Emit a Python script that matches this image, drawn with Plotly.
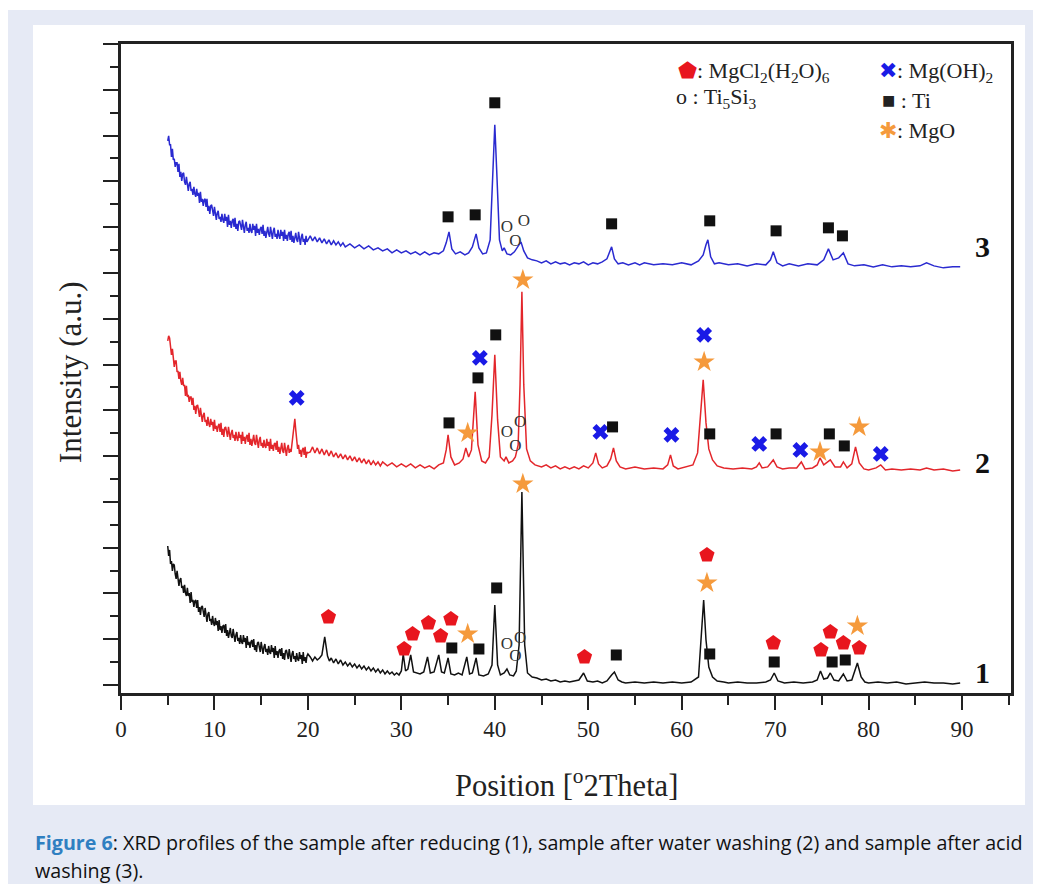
import plotly.graph_objects as go

# ---------------- data (2theta in degrees, intensity in a.u., stacked patterns) ----------------
# low-angle part of each pattern: 5.0 .. 20.0 deg, scan step 0.1 deg
scan_start, scan_step = 5.0, 0.1
t1_low = [139,129,135,121,124,114,121,120,111,106,
          114,105,99,105,107,97,99,92,100,92,
          89,97,89,92,82,93,83,85,78,84,
          85,77,85,73,78,70,78,79,71,68,
          77,69,63,71,73,64,66,60,69,62,
          59,67,60,64,54,65,55,59,52,59,
          60,52,61,49,55,47,55,57,49,47,
          56,48,43,50,53,44,47,41,50,43,
          41,50,43,47,37,49,40,43,37,43,
          45,38,46,35,40,33,42,43,36,33,
          43,36,31,38,41,33,36,30,39,33,
          31,40,33,37,27,39,30,34,27,34,
          36,29,37,26,32,25,34,35,28,26,
          36,29,23,31,34,26,29,23,32,26,
          24,33,26,30,21,33,24,28,22,29,
          31]
t2_low = [344,349,347,336,330,336,326,318,324,324,
          313,314,306,313,304,300,307,299,300,289,
          299,288,290,283,288,288,280,287,275,279,
          271,279,280,271,268,277,269,263,270,272,
          263,265,259,268,261,258,266,260,263,254,
          265,256,259,253,259,261,253,262,250,256,
          248,257,258,251,248,258,250,245,252,255,
          247,250,244,253,247,244,253,247,250,241,
          253,244,248,241,248,250,243,252,240,246,
          239,248,250,242,240,250,242,237,245,248,
          239,242,237,245,239,237,246,239,243,234,
          246,236,240,234,241,242,235,244,233,238,
          231,240,242,234,232,242,235,229,237,240,
          232,236,233,242,251,260,266,255,244,236,
          240,231,235,228,235,237,230,238,227,233,
          232]
t3_low = [544,549,540,540,528,536,525,526,518,522,
          522,513,521,508,513,504,511,512,503,500,
          508,500,494,501,503,494,496,490,498,491,
          488,496,489,492,482,493,483,486,479,485,
          486,478,486,474,479,471,479,480,472,469,
          478,470,465,472,474,466,468,463,471,465,
          462,471,464,468,458,470,460,464,457,464,
          466,458,467,456,461,454,463,464,457,455,
          465,457,452,460,463,454,457,452,461,454,
          452,461,455,459,449,461,452,456,450,456,
          458,451,460,449,454,447,456,458,451,448,
          458,451,446,454,457,448,451,446,455,449,
          446,455,449,453,444,455,446,450,444,451,
          453,445,454,443,449,442,450,452,445,443,
          453,446,440,448,451,443,446,440,449,443,
          445]

# rest of each pattern above 20 deg: (2theta, intensity)
t1_high = [(20.25,28),(20.5,24),(20.75,28),(21.0,25),(21.25,27),(21.5,30),(21.8,48),(22.1,29),
(22.3,24),(22.5,27),(22.75,22),(23.0,26),(23.25,21),(23.5,25),(23.75,20),(24.0,23),(24.25,19),(24.5,22),
(24.75,18),(25.0,21),(25.25,17),(25.5,20),(25.75,16),(26.0,19),(26.25,15),(26.5,18),(26.75,14),(27.0,17),
(27.25,13),(27.5,16),(27.75,12),(28.0,15),(28.25,11),(28.5,14),(28.75,11),(29.0,13),(29.25,10),(29.5,12),
(29.75,10),(30.0,14),(30.2,31),(30.45,14),(30.7,16),(31.0,30),(31.3,13),(31.6,12),(32.0,11),(32.4,13),
(32.8,28),(33.1,12),(33.5,13),(34.0,30),(34.3,13),(34.6,12),(35.0,27),(35.3,11),(35.7,10),(36.1,12),
(36.5,10),(37.0,28),(37.3,11),(37.6,12),(38.0,27),(38.3,10),(38.8,9),(39.3,11),(39.7,20),(40.0,80),
(40.3,20),(40.6,10),(41.0,12),(41.3,16),(41.6,10),(42.0,9),(42.3,14),(42.6,40),(42.9,193),(43.2,40),
(43.5,12),(44.0,8),(44.5,7),(45.0,5),(45.5,6),(46.0,4),(46.5,5),(47.0,3),(47.5,4),(48.0,3),(48.5,4),
(49.0,5),(49.5,12),(49.9,4),(50.5,3),(51.0,4),(51.5,2),(52.0,4),(52.5,10),(52.8,13),(53.2,5),(53.6,3),
(54.0,2),(55.0,3),(56.0,2),(57.0,3),(58.0,2),(59.0,3),(60.0,2),(61.0,3),(61.8,8),(62.1,45),(62.35,85),
(62.6,45),(62.9,18),(63.3,8),(63.8,4),(64.5,3),(65.0,2),(66.0,3),(67.0,2),(68.0,2),(69.0,3),(69.5,5),
(69.9,12),(70.3,4),(71.0,2),(72.0,3),(73.0,2),(74.0,3),(74.5,5),(74.85,14),(75.2,6),(75.6,7),(75.9,12),
(76.3,5),(76.8,4),(77.3,11),(77.7,4),(78.2,5),(78.8,22),(79.2,8),(79.6,3),(80.0,2),(81.0,3),(82.0,2),
(83.0,3),(84.0,1),(85.0,2),(86.0,3),(87.0,2),(88.0,2),(89.0,1),(89.8,2)]

t2_high = [(20.25,233),(20.5,238),(20.75,232),(21.0,237),(21.25,231),(21.5,236),(21.75,230),(22.0,235),
(22.25,229),(22.5,234),(22.75,228),(23.0,232),(23.25,227),(23.5,231),(23.75,226),(24.0,230),(24.25,225),
(24.5,229),(24.75,224),(25.0,228),(25.25,223),(25.5,227),(25.75,222),(26.0,226),(26.25,221),(26.5,225),
(26.75,220),(27.0,224),(27.25,220),(27.5,223),(27.75,219),(28.0,223),(28.5,219),(29.0,222),(29.5,218),
(30.0,221),(30.5,218),(31.0,221),(31.5,217),(32.0,220),(32.5,217),(33.0,219),(33.5,216),(34.0,220),
(34.5,222),(34.8,235),(35.0,250),(35.3,228),(35.7,220),(36.2,222),(36.6,226),(36.9,237),(37.2,228),
(37.5,235),(37.9,293),(38.2,240),(38.6,224),(39.0,222),(39.4,228),(39.7,270),(40.0,330),(40.3,265),
(40.6,228),(41.0,224),(41.2,228),(41.5,222),(41.9,224),(42.2,228),(42.5,240),(42.7,300),(42.9,393),
(43.1,300),(43.4,236),(43.8,224),(44.3,220),(45.0,218),(45.5,220),(46.0,217),(46.5,219),(47.0,216),
(47.5,218),(48.0,216),(48.5,218),(49.0,216),(49.5,219),(50.0,217),(50.5,222),(50.8,232),(51.1,221),
(51.5,217),(52.0,219),(52.4,226),(52.7,237),(53.0,224),(53.4,218),(54.0,216),(55.0,218),(56.0,216),
(57.0,217),(58.0,216),(58.5,220),(58.8,230),(59.1,219),(59.6,216),(60.5,218),(61.2,220),(61.7,232),
(62.0,270),(62.3,305),(62.6,262),(62.9,236),(63.3,225),(63.8,219),(64.5,217),(65.5,216),(66.5,217),
(67.5,216),(68.0,218),(68.3,222),(68.6,217),(69.2,218),(69.8,225),(70.2,218),(70.8,216),(71.5,217),
(72.3,217),(72.8,223),(73.2,216),(74.0,217),(74.5,220),(74.8,227),(75.2,220),(75.9,225),(76.4,218),
(77.0,218),(77.3,223),(77.7,217),(78.2,221),(78.6,238),(79.0,222),(79.5,216),(80.0,215),(80.8,217),
(81.3,220),(81.8,215),(82.5,216),(83.5,215),(84.5,216),(85.5,215),(86.2,217),(87.0,215),(88.0,216),
(89.0,214),(89.8,215)]

t3_high = [(20.25,449),(20.5,444),(20.75,448),(21.0,443),(21.25,447),(21.5,442),(21.75,446),(22.0,441),
(22.25,445),(22.5,440),(22.75,444),(23.0,440),(23.25,443),(23.5,439),(23.75,442),(24.0,438),(24.5,441),
(25.0,437),(25.5,440),(26.0,436),(26.5,439),(27.0,435),(27.5,437),(28.0,434),(28.5,436),(29.0,432),
(29.5,435),(30.0,432),(30.5,434),(31.0,431),(31.5,433),(32.0,430),(32.5,433),(33.0,430),(33.5,432),
(34.0,431),(34.5,434),(34.8,442),(35.1,453),(35.4,436),(35.8,431),(36.3,433),(36.8,430),(37.2,432),
(37.6,438),(38.0,451),(38.3,437),(38.7,431),(39.1,432),(39.5,445),(39.8,520),(40.0,560),(40.2,515),
(40.5,445),(40.8,434),(41.0,437),(41.3,431),(41.7,430),(42.1,433),(42.5,438),(42.8,443),(43.1,434),
(43.5,427),(44.0,425),(44.5,424),(45.0,422),(45.5,424),(46.0,421),(46.5,423),(47.0,421),(47.5,422),
(48.0,420),(48.5,422),(49.0,421),(49.5,423),(50.0,420),(50.5,422),(51.0,421),(51.5,423),(52.0,426),
(52.5,438),(52.8,426),(53.2,421),(53.7,422),(54.3,420),(55.0,422),(55.5,420),(56.0,422),(57.0,420),
(58.0,421),(59.0,420),(60.0,422),(61.0,420),(61.8,424),(62.3,430),(62.6,440),(62.8,445),(63.1,428),
(63.5,421),(64.0,422),(65.0,420),(66.0,421),(67.0,419),(68.0,421),(69.0,420),(69.5,425),(69.8,433),
(70.2,422),(70.8,419),(71.5,421),(72.5,419),(73.5,421),(74.5,420),(75.2,425),(75.7,436),(76.2,425),
(76.8,427),(77.3,432),(77.8,421),(78.5,419),(79.5,420),(80.5,418),(81.5,420),(82.5,418),(83.5,419),
(84.5,418),(85.5,419),(86.2,422),(87.0,419),(88.0,417),(89.0,418),(89.8,418)]

# phase identification marks (2theta, intensity)
mgcl2_x = [22.2, 30.3, 31.2, 32.9, 34.2, 35.3, 49.6, 62.7, 69.8, 74.9, 75.9, 77.3, 79.0]
mgcl2_y = [68, 36, 51, 62, 49, 66, 28, 130, 42, 35, 53, 42, 37]
mgoh2_x = [18.8, 38.4, 51.3, 58.9, 62.4, 68.3, 72.7, 81.3]
mgoh2_y = [287, 327, 253, 250, 350, 241, 235, 231]
ti5si3_x = [41.3, 43.1, 42.2, 41.3, 42.7, 42.2, 41.3, 42.7, 42.2]
ti5si3_y = [457, 463, 443, 252, 262, 238, 40, 46, 28]
ti_x = [35.0, 37.9, 40.0, 52.5, 63.0, 70.1, 75.7, 77.2,
        35.1, 38.2, 40.1, 52.6, 63.0, 70.1, 75.8, 77.4,
        35.4, 38.3, 40.2, 53.0, 63.0, 69.9, 76.1, 77.5]
ti_y = [468, 470, 582, 461, 464, 454, 457, 449,
        262, 307, 350, 258, 251, 251, 251, 239,
        37, 36, 97, 30, 31, 23, 23, 25]
mgo_x = [37.1, 43.0, 62.4, 74.8, 79.0, 37.1, 43.0, 62.7, 78.8]
mgo_y = [252, 405, 323, 233, 258, 51, 201, 102, 59]

sample_labels = ["1", "2", "3"]
sample_label_y = [12, 222, 438]
x_ticks = [0, 10, 20, 30, 40, 50, 60, 70, 80, 90]

SERIF = "Liberation Serif"
RED = "#e8161e"
BLUE = "#1a1ae6"
ORANGE = "#f59a3c"


def pattern(low, high):
    xs = [round(scan_start + i * scan_step, 2) for i in range(len(low))] + [p[0] for p in high]
    ys = list(low) + [p[1] for p in high]
    return xs, ys


fig = go.Figure()
for low, high, col in [(t1_low, t1_high, "#111111"), (t2_low, t2_high, "#e3262b"),
                       (t3_low, t3_high, "#2a2ad0")]:
    xs, ys = pattern(low, high)
    fig.add_trace(go.Scatter(x=xs, y=ys, mode="lines", line=dict(color=col, width=1.5),
                             showlegend=False, hoverinfo="skip"))

fig.add_trace(go.Scatter(x=mgcl2_x, y=mgcl2_y, mode="markers",
                         marker=dict(symbol="pentagon", size=16, color=RED), showlegend=False))
fig.add_trace(go.Scatter(x=mgoh2_x, y=mgoh2_y, mode="markers",
                         marker=dict(symbol="x", size=14, color=BLUE), showlegend=False))
fig.add_trace(go.Scatter(x=ti_x, y=ti_y, mode="markers",
                         marker=dict(symbol="square", size=11, color="#111111"), showlegend=False))
fig.add_trace(go.Scatter(x=mgo_x, y=mgo_y, mode="markers",
                         marker=dict(symbol="star", size=16, color=ORANGE), showlegend=False))
fig.add_trace(go.Scatter(x=ti5si3_x, y=ti5si3_y, mode="text", text=["O"] * len(ti5si3_x),
                         textfont=dict(family=SERIF, size=17, color="#333333"), showlegend=False))

for lab, yy in zip(sample_labels, sample_label_y):
    fig.add_annotation(x=92.2, y=yy, text="<b>%s</b>" % lab, showarrow=False,
                       font=dict(family=SERIF, size=30, color="#111111"), xanchor="center", yanchor="middle")

# page layout (the page body adds an 8 px offset)
OFF = 8
W, H = 1041 - 2 * OFF, 892 - 2 * OFF
L, R, T, B = 121 - OFF, 1011 - OFF, 44 - OFF, 693 - OFF
def px(x): return (x - OFF - L) / (R - L)
def py(y): return (B - (y - OFF)) / (B - T)

shapes = [
    dict(type="rect", xref="paper", yref="paper", x0=px(7), x1=px(1045), y0=py(10), y1=py(900),
         fillcolor="#e6eaf5", line=dict(width=0), layer="below"),
    dict(type="rect", xref="paper", yref="paper", x0=px(33), x1=px(1025), y0=py(25), y1=py(805),
         fillcolor="white", line=dict(width=0), layer="below"),
]

leg_font = dict(family=SERIF, size=22, color="#222222")
legend_items = [
    (676, 72, '<span style="color:%s">⬟</span>: MgCl<sub>2</sub>(H<sub>2</sub>O)<sub>6</sub>' % RED),
    (877, 72, '<span style="color:%s">✖</span>: Mg(OH)<sub>2</sub>' % BLUE),
    (674, 98, 'o : Ti<sub>5</sub>Si<sub>3</sub>'),
    (880, 100, '■ : Ti'),
    (877, 130, '<span style="color:%s">✱</span>: MgO' % ORANGE),
]
for lx, ly, txt in legend_items:
    fig.add_annotation(xref="paper", yref="paper", x=px(lx), y=py(ly), text=txt, showarrow=False,
                       xanchor="left", yanchor="middle", font=leg_font)

fig.add_annotation(xref="paper", yref="paper", x=px(566), y=py(783),
                   text="Position [<sup>o</sup>2Theta]", showarrow=False,
                   font=dict(family=SERIF, size=30.5, color="#222222"), xanchor="center", yanchor="middle")
fig.add_annotation(xref="paper", yref="paper", x=px(70), y=py(372), text="Intensity (a.u.)",
                   textangle=-90, showarrow=False,
                   font=dict(family=SERIF, size=31, color="#222222"), xanchor="center", yanchor="middle")

cap_font = dict(family="Open Sans", size=19.7, color="#111111")
fig.add_annotation(xref="paper", yref="paper", x=px(33), y=py(842), xanchor="left", yanchor="middle",
                   showarrow=False, font=cap_font,
                   text='<span style="color:#2f7fc1"><b>Figure 6</b></span>: XRD profiles of the sample after reducing (1), sample after water washing (2) and sample after acid')
fig.add_annotation(xref="paper", yref="paper", x=px(33), y=py(870), xanchor="left", yanchor="middle",
                   showarrow=False, font=cap_font, text="washing (3).")

TICK = 45.77
fig.update_layout(
    width=W, height=H,
    margin=dict(l=L, r=W - R, t=T, b=H - B),
    paper_bgcolor="white", plot_bgcolor="white",
    shapes=shapes,
    xaxis=dict(range=[0, (R - L) / 9.345], tickmode="array", tickvals=x_ticks,
               ticktext=[str(v) for v in x_ticks], ticks="outside", ticklen=14, tickwidth=2,
               tickcolor="#222222", showline=True, linewidth=2.5, linecolor="#222222", mirror=True,
               showgrid=False, zeroline=False,
               tickfont=dict(family=SERIF, size=23, color="#222222"),
               minor=dict(dtick=5, tick0=0, ticks="outside", ticklen=9, tickwidth=2, tickcolor="#222222")),
    yaxis=dict(range=[-8, 14 * TICK], tick0=0, dtick=TICK, ticks="outside", ticklen=15, tickwidth=2,
               tickcolor="#222222", showticklabels=False, showline=True, linewidth=2.5,
               linecolor="#222222", mirror=True, showgrid=False, zeroline=False,
               minor=dict(dtick=TICK / 2, tick0=0, ticks="outside", ticklen=8, tickwidth=2,
                          tickcolor="#222222")),
)

fig.write_html("out.html")
